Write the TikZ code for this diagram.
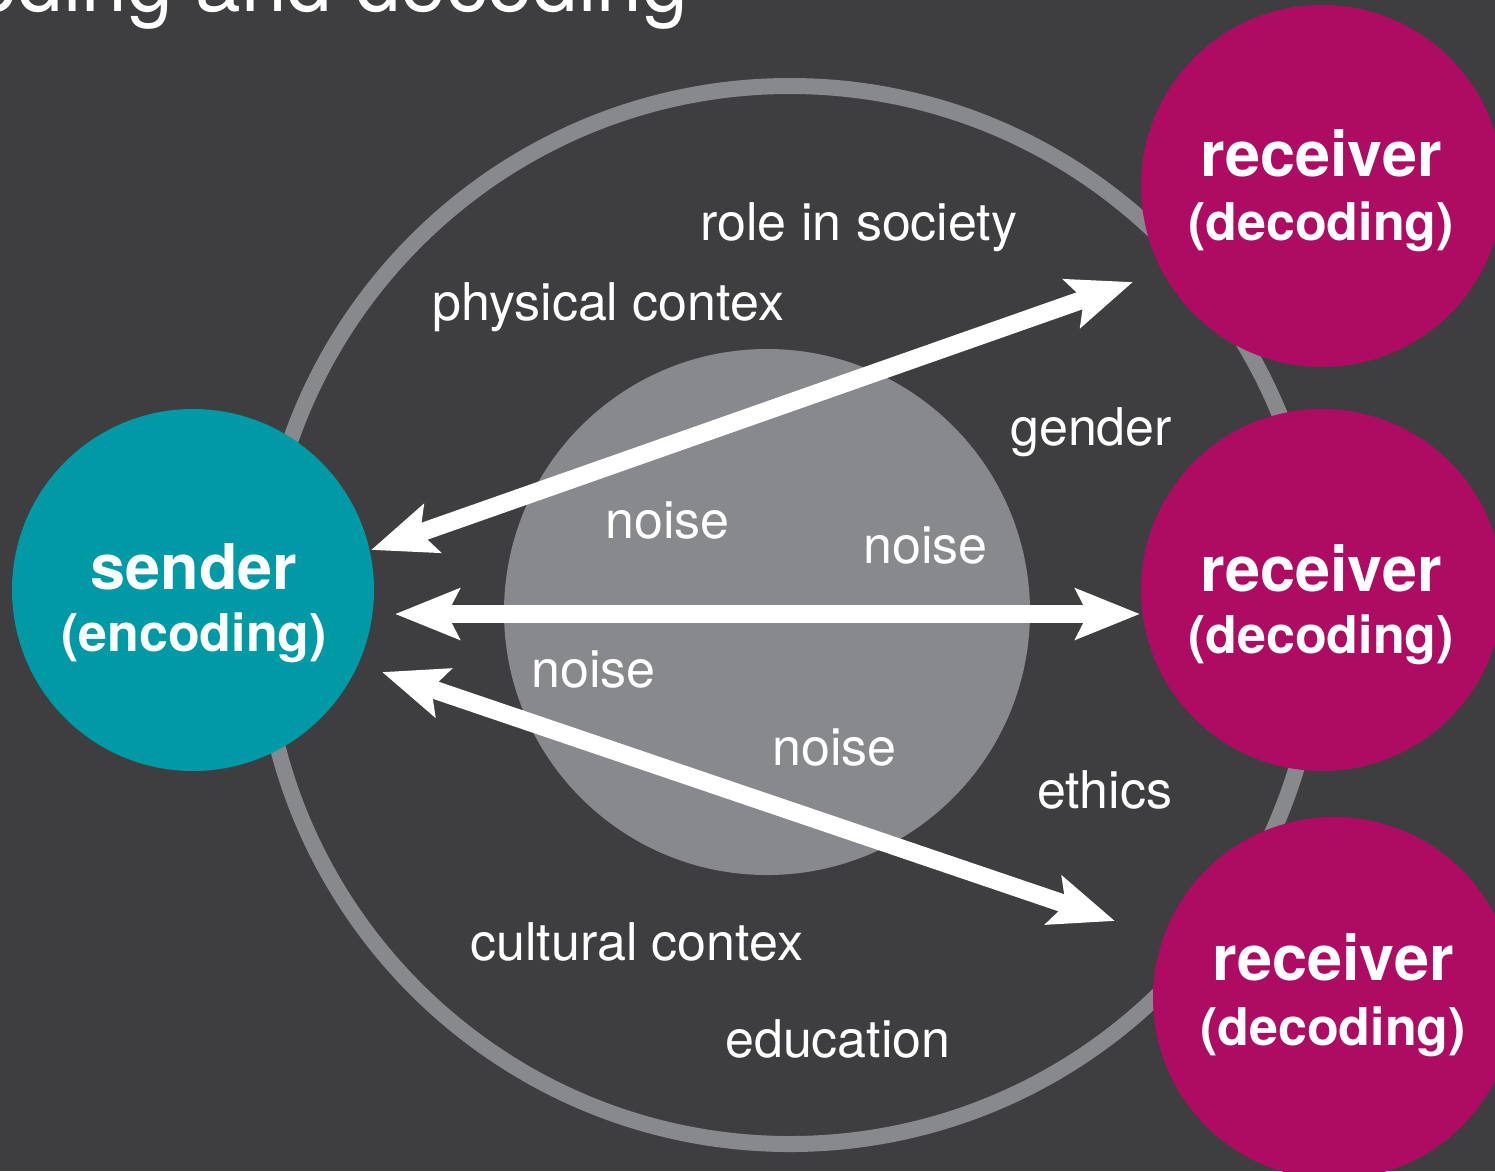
\documentclass[tikz,border=0pt]{standalone}
\usepackage{fontspec}
\setmainfont{TeX Gyre Heros}
\usetikzlibrary{arrows.meta}
\definecolor{bgdark}{RGB}{62,62,64}
\definecolor{ringgrey}{RGB}{136,137,140}
\definecolor{sendteal}{RGB}{0,153,166}
\definecolor{recvmagenta}{RGB}{174,12,98}
\begin{document}
\begin{tikzpicture}[x=1pt,y=-1pt,
    blob/.style={circle, inner sep=0pt, minimum size=362pt},
    ctxtext/.style={text=white, anchor=base west, inner sep=0pt, font=\fontsize{52}{60}\selectfont},
    roletext/.style={text=white, anchor=base, inner sep=0pt, font=\fontsize{63}{70}\selectfont\bfseries},
    codetext/.style={text=white, anchor=base, inner sep=0pt, font=\fontsize{52}{60}\selectfont\bfseries},
    msg/.style={white, line width=18pt, {Stealth[length=64pt,width=50pt,inset=12pt]}-{Stealth[length=64pt,width=50pt,inset=12pt]}}]
  \useasboundingbox (0,0) rectangle (1495,1171);
  \clip (0,0) rectangle (1495,1171);
  \fill[bgdark] (0,0) rectangle (1495,1171);
  % title, cut off by the top edge
  \node[text=white, anchor=base east, inner sep=0pt, font=\fontsize{82}{90}\selectfont] (heading) at (688,11) {encoding and decoding};
  % context ring and noise core
  \draw[ringgrey, line width=16pt] (790,615) circle[radius=529];
  \node[circle, fill=ringgrey, inner sep=0pt, minimum size=526pt] (core) at (767,612) {};
  % sender and receivers
  \node[blob, fill=sendteal] (sender) at (193,590) {};
  \node[blob, fill=recvmagenta] (recvA) at (1322,186) {};
  \node[blob, fill=recvmagenta] (recvB) at (1322,590) {};
  \node[blob, fill=recvmagenta] (recvC) at (1334,998) {};
  \node[roletext] (sendername) at (194,589) {sender};
  \node[codetext] (sendercode) at (194,651) {(encoding)};
  \node[roletext] (recvAname) at (1321,176) {receiver};
  \node[codetext] (recvAcode) at (1321,240) {(decoding)};
  \node[roletext] (recvBname) at (1321,591) {receiver};
  \node[codetext] (recvBcode) at (1321,653) {(decoding)};
  \node[roletext] (recvCname) at (1333,980) {receiver};
  \node[codetext] (recvCcode) at (1333,1045) {(decoding)};
  % context labels
  \node[ctxtext] (role) at (700,240) {role in society};
  \node[ctxtext] (physical) at (432,320) {physical contex};
  \node[ctxtext] (gender) at (1010,445) {gender};
  \node[ctxtext] (noiseA) at (605,538) {noise};
  \node[ctxtext] (noiseB) at (863,563) {noise};
  \node[ctxtext] (noiseC) at (531,687) {noise};
  \node[ctxtext] (noiseD) at (772,765) {noise};
  \node[ctxtext] (ethics) at (1037,808) {ethics};
  \node[ctxtext] (cultural) at (470,960) {cultural contex};
  \node[ctxtext] (education) at (725,1057) {education};
  % message arrows
  \coordinate (sendA) at (371,550);
  \coordinate (tipA) at (1133,282);
  \coordinate (sendB) at (395,614);
  \coordinate (tipB) at (1140,614);
  \coordinate (sendC) at (382,672);
  \coordinate (tipC) at (1115,921);
  \draw[msg] (sendA) -- (tipA);
  \draw[msg] (sendB) -- (tipB);
  \draw[msg] (sendC) -- (tipC);
\end{tikzpicture}
\end{document}
